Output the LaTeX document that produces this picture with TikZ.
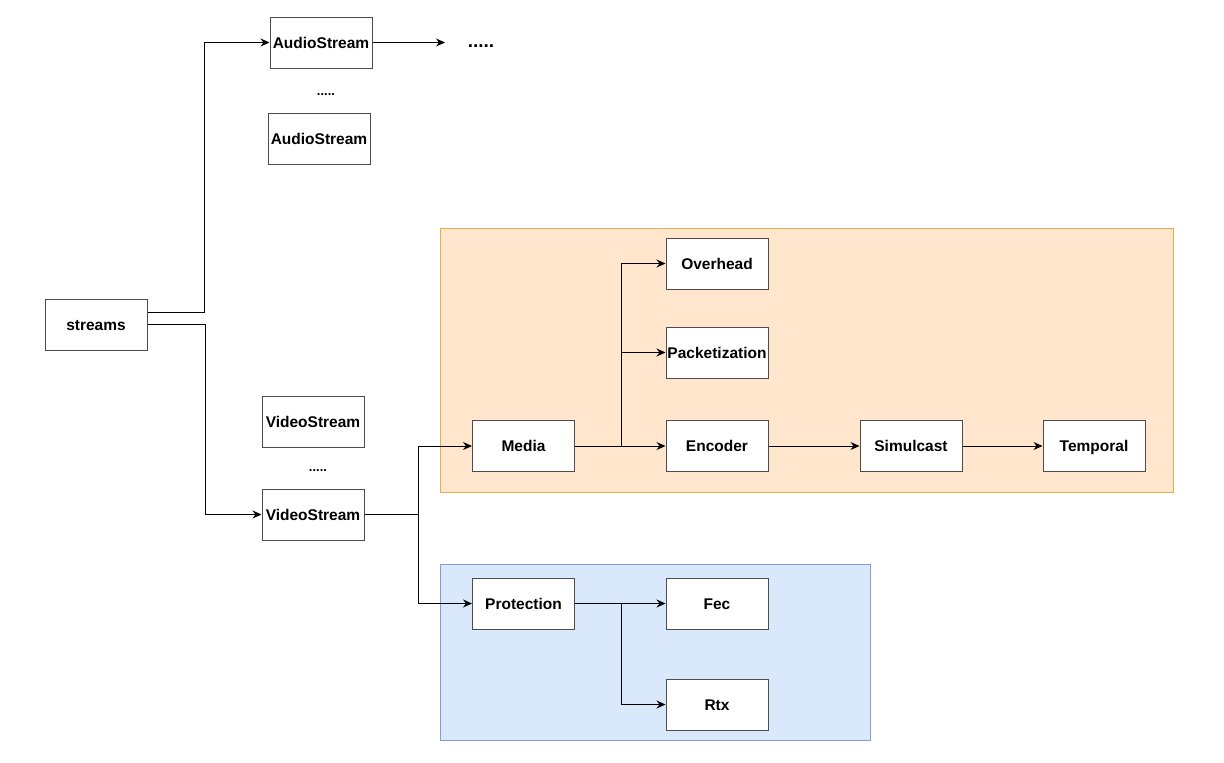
\documentclass[tikz,border=0pt]{standalone}
\usepackage{fontspec}
\setmainfont{Liberation Sans}
\usetikzlibrary{arrows.meta}
\definecolor{arancio}{HTML}{FFE6CC}
\definecolor{arancioBordo}{HTML}{E0B050}
\definecolor{azzurro}{HTML}{DAE8FC}
\definecolor{azzurroBordo}{HTML}{7E9FCF}
\tikzset{
	blocco/.style={draw=black!70, fill=white, line width=1pt, minimum width=102pt, minimum height=51pt, inner sep=0pt, text height=12pt, text depth=1pt, font=\fontsize{15.5}{17}\selectfont\bfseries},
	puntini/.style={font=\fontsize{13}{15}\selectfont\bfseries},
	freccia/.style={line width=1pt, -{Stealth[length=9pt,width=8pt,inset=3pt]}}
}
\begin{document}
\begin{tikzpicture}[x=1pt, y=-1pt]
			\useasboundingbox (0,0) rectangle (1224,763);
			% Riquadri colorati
			\draw[fill=arancio, draw=arancioBordo, line width=1pt] (440,228) rectangle (1173,492);
			\draw[fill=azzurro, draw=azzurroBordo, line width=1pt] (440,564) rectangle (870,740);
			
			% Blocchi
			\node[blocco] (streams) at (96,324.5) {streams};
			\node[blocco] (audioA) at (321,42.5) {AudioStream};
			\node[blocco] (audioB) at (319,138.5) {AudioStream};
			\node[blocco] (videoA) at (313,421.5) {VideoStream};
			\node[blocco] (videoB) at (313,514.5) {VideoStream};
			\node[blocco] (media) at (523.5,446) {Media};
			\node[blocco] (overhead) at (717,263.5) {Overhead};
			\node[blocco] (packet) at (717,352.5) {Packetization};
			\node[blocco] (encoder) at (717,446) {Encoder};
			\node[blocco] (simulcast) at (911,446) {Simulcast};
			\node[blocco] (temporal) at (1094,446) {Temporal};
			\node[blocco] (protection) at (523.5,603.5) {Protection};
			\node[blocco] (fec) at (717,603.5) {Fec};
			\node[blocco] (rtx) at (717,704.5) {Rtx};
			
			% Puntini
			\node[puntini] (dotsA) at (326,95) {.....};
			\node[puntini] (dotsV) at (318,471) {.....};
			\node[font=\fontsize{19}{21}\selectfont\bfseries] (dotsR) at (481,46) {.....};
			\coordinate (fine) at (445,42.5);
			
			% Collegamenti
			\draw[freccia] ([yshift=12.5pt]streams.east) -- ++(57,0) |- (audioA.west);
			\draw[freccia] (streams.east) -- ++(58,0) |- (videoB.west);
			\draw[freccia] (audioA.east) -- (fine);
			\draw[freccia] (videoB.east) -- ++(54,0) |- (media.west);
			\draw[freccia] (videoB.east) -- ++(54,0) |- (protection.west);
			\draw[freccia] (media.east) -- (encoder.west);
			\draw[freccia] (media.east) -- ++(46,0) |- (overhead.west);
			\draw[freccia] (media.east) -- ++(46,0) |- (packet.west);
			\draw[freccia] (encoder.east) -- (simulcast.west);
			\draw[freccia] (simulcast.east) -- (temporal.west);
			\draw[freccia] (protection.east) -- (fec.west);
			\draw[freccia] (protection.east) -- ++(46,0) |- (rtx.west);
		\end{tikzpicture}
\end{document}
